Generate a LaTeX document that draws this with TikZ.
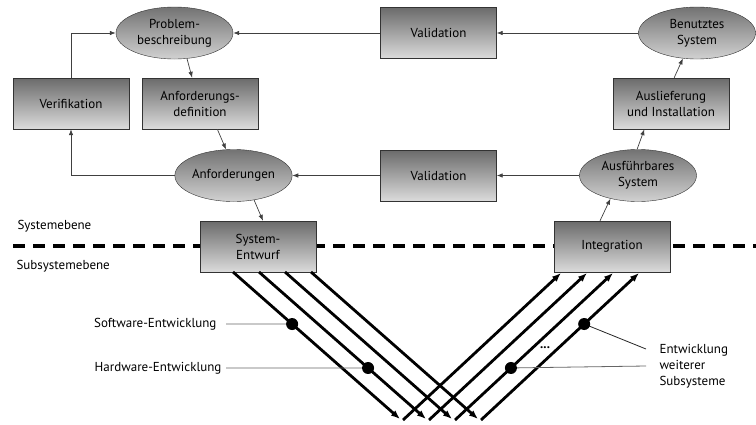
\documentclass[tikz,border=0pt]{standalone}
\usepackage{fontspec}
\setmainfont{PT Sans}
\usetikzlibrary{shapes.geometric,arrows.meta}
\newcommand{\labelfont}{\fontsize{13}{16}\selectfont}
\tikzset{
  stepbox/.style={draw=black!80,rectangle,minimum width=116pt,minimum height=51pt,inner sep=0pt,top color=black!58,bottom color=black!14,align=center,font=\labelfont},
  result/.style={draw=black!80,ellipse,minimum width=117pt,minimum height=52pt,inner sep=0pt,top color=black!55,bottom color=black!18,align=center,font=\labelfont},
  flow/.style={draw=black!75,line width=0.7pt,-{Latex[length=6pt,width=4.5pt]}},
  devline/.style={line width=2.8pt,-{Latex[length=9pt,width=7pt]}},
  pointer/.style={draw=black!60,line width=0.8pt},
  levelline/.style={line width=3.5pt,dash pattern=on 12pt off 8pt},
}
\begin{document}
\begin{tikzpicture}[x=1pt,y=-1pt]
  \useasboundingbox (0,0) rectangle (756,424);
  %level separator
  \draw[levelline] (13,246) -- (756,246);
  \node[anchor=west,font=\labelfont] (sys) at (14,226) {Systemebene};
  \node[anchor=west,font=\labelfont] (subsys) at (13,266) {Subsystemebene};
  %activities
  \node[stepbox] (verif) at (71,103.5) {Verifikation};
  \node[stepbox] (anfdef) at (200,103.5) {Anforderungs-\\definition};
  \node[stepbox] (valtop) at (438.5,33) {Validation};
  \node[stepbox] (vallow) at (438.5,175.5) {Validation};
  \node[stepbox] (ausl) at (671,103.5) {Auslieferung\\und Installation};
  \node[stepbox] (entwurf) at (258,246.5) {System-\\Entwurf};
  \node[stepbox] (integ) at (612,246.5) {Integration};
  %results
  \node[result] (problem) at (174.5,33) {Problem-\\beschreibung};
  \node[result] (anf) at (233.5,175.5) {Anforderungen};
  \node[result] (benutzt) at (697,33) {Benutztes\\System};
  \node[result] (ausf) at (638,175.5) {Ausführbares\\System};
  %flow
  \draw[flow] (benutzt.west) -- (valtop.east);
  \draw[flow] (valtop.west) -- (problem.east);
  \draw[flow] (verif.north) |- (problem.west);
  \draw[flow] (problem.-64) -- (anfdef.107);
  \draw[flow] (anfdef.-56) -- (anf.106);
  \draw[flow] (anf.west) -| (verif.south);
  \draw[flow] (vallow.west) -- (anf.east);
  \draw[flow] (ausf.west) -- (vallow.east);
  \draw[flow] (anf.-50) -- (entwurf.79);
  \draw[flow] (integ.115) -- (ausf.-140);
  \draw[flow] (ausf.92) -- (ausl.-136);
  \draw[flow] (ausl.83) -- (benutzt.-119);
  %subsystem development
  \foreach \i in {0,...,3}{
    \coordinate (top\i) at (233+26*\i,272);
    \coordinate (low\i) at (400+26*\i,419);
    \coordinate (rise\i) at (403+26*\i,420);
    \coordinate (end\i) at (561+26*\i,273);
    \draw[devline] (top\i) -- (low\i);
    \draw[devline] (rise\i) -- (end\i);
  }
  \path (top0) -- (low0) coordinate[pos=.354] (swdot);
  \path (top1) -- (low1) coordinate[pos=.653] (hwdot);
  \path (rise3) -- (end3) coordinate[pos=.653] (moredotA);
  \path (rise2) -- (end2) coordinate[pos=.354] (moredotB);
  \node[anchor=east,font=\labelfont] (swtext) at (220,324) {Software-Entwicklung};
  \node[anchor=east,font=\labelfont] (hwtext) at (225,368) {Hardware-Entwicklung};
  \node[anchor=west,align=left,font=\labelfont] (weitertext) at (656,366) {Entwicklung\\weiterer\\Subsysteme};
  \node[font=\labelfont\bfseries] (dots) at (545,348) {...};
  \draw[pointer] ([xshift=6pt]swtext.east) -- (swdot);
  \draw[pointer] ([xshift=1pt]hwtext.east) -- (hwdot);
  \draw[pointer,draw=black!85] (moredotA) -- ([xshift=-10pt,yshift=17pt]weitertext.west);
  \draw[pointer] (moredotB) -- ([xshift=-10pt]weitertext.west);
  \foreach \d in {swdot,hwdot,moredotA,moredotB}
    \fill (\d) circle (6pt);
\end{tikzpicture}
\end{document}
